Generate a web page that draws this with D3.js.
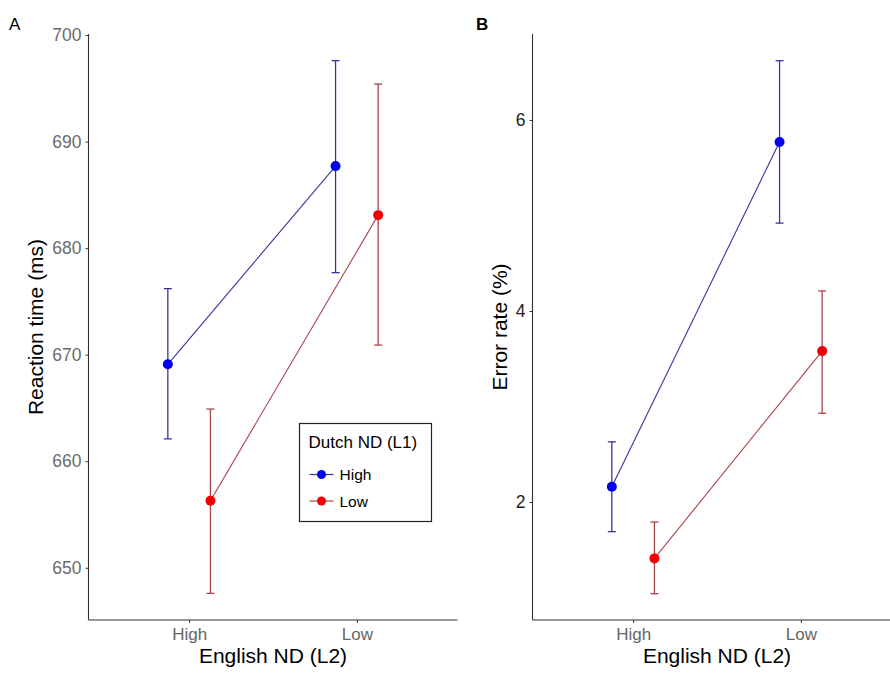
<!DOCTYPE html>
<html>
<head>
<meta charset="utf-8">
<script src="https://cdn.jsdelivr.net/npm/d3@7"></script>
<style>
body { margin: 0; background: #fff; }
text { font-family: "Liberation Sans", Arial, sans-serif; }
</style>
</head>
<body>
<svg id="chart" width="890" height="673"></svg>
<script>
// data
englishLevels = ["High", "Low"];
dutchLevels = ["High", "Low"];
rtMean  = [[669.1, 687.7], [656.3, 683.1]];   // [dutch][english]
rtLower = [[662.1, 677.7], [647.6, 670.9]];
rtUpper = [[676.2, 697.6], [664.9, 695.4]];
errMean  = [[2.16, 5.77], [1.41, 3.58]];
errLower = [[1.69, 4.92], [1.04, 2.93]];
errUpper = [[2.63, 6.62], [1.79, 4.21]];
rtTicks = [650, 660, 670, 680, 690, 700];
errTicks = [2, 4, 6];

pointColours = ["#0000f0", "#f00000"];
lineColours = ["#36369a", "#a8454a"];

svg = d3.select("#chart");
plotTop = 34;
plotBottom = 620;

function buildRows(mean, lower, upper) {
    rows = [];
    for (var g = 0; g < dutchLevels.length; g++) {
        for (var i = 0; i < englishLevels.length; i++) {
            rows.push({group: g, english: englishLevels[i], mean: mean[g][i], lo: lower[g][i], hi: upper[g][i]});
        }
    }
    return rows;
}

function drawPanel(opts) {
    x = d3.scalePoint().domain(englishLevels).range([opts.left, opts.left + 369]).padding(0.6);
    y = d3.scaleLinear().domain(opts.domain).range([plotBottom, plotTop]);
    dodge = x.step() * 0.127;
    rows = buildRows(opts.mean, opts.lower, opts.upper);
    px = (d) => x(d.english) + (d.group == 0 ? -dodge : dodge);

    g = svg.append("g");

    // connecting lines
    for (var k = 0; k < dutchLevels.length; k++) {
        pts = rows.filter((d) => d.group == k);
        g.append("path")
            .attr("d", d3.line().x(px).y((d) => y(d.mean))(pts))
            .attr("fill", "none")
            .attr("stroke", lineColours[k])
            .attr("stroke-width", 1.1);
    }

    // error bars
    bars = g.selectAll(".bar").data(rows).enter().append("g");
    bars.append("line")
        .attr("x1", px).attr("x2", px)
        .attr("y1", (d) => y(d.lo)).attr("y2", (d) => y(d.hi))
        .attr("stroke", (d) => lineColours[d.group])
        .attr("stroke-width", 1.3);
    ["lo", "hi"].forEach((key) => {
        bars.append("line")
            .attr("x1", (d) => px(d) - 4).attr("x2", (d) => px(d) + 4)
            .attr("y1", (d) => y(d[key])).attr("y2", (d) => y(d[key]))
            .attr("stroke", (d) => lineColours[d.group])
            .attr("stroke-width", 1.3);
    });

    // points
    g.selectAll(".pt").data(rows).enter().append("circle")
        .attr("cx", px)
        .attr("cy", (d) => y(d.mean))
        .attr("r", 5)
        .attr("fill", (d) => pointColours[d.group]);

    // axes
    yAxis = g.append("g")
        .attr("transform", "translate(" + opts.left + ",0)")
        .call(d3.axisLeft(y).tickValues(opts.ticks).tickFormat(d3.format("d")).tickSize(3).tickPadding(4));
    yAxis.select(".domain").attr("d", "M0," + plotTop + "V" + plotBottom);
    xAxis = g.append("g")
        .attr("transform", "translate(0," + plotBottom + ")")
        .call(d3.axisBottom(x).tickSize(3).tickPadding(5));
    xAxis.select(".domain").attr("d", "M" + opts.left + ",0H" + (opts.left + 369));
    g.selectAll(".domain").attr("stroke", "#333").attr("stroke-width", 1.1);
    g.selectAll(".tick line").attr("stroke", "#333");
    yAxis.selectAll(".tick text")
        .style("font-size", "17.5px")
        .attr("fill", opts.yTickColour);
    xAxis.selectAll(".tick text")
        .style("font-size", "17px")
        .attr("fill", "#666");

    // titles
    g.append("text")
        .attr("transform", "translate(" + (opts.left - opts.titleGap) + "," + ((plotTop + plotBottom) / 2) + ") rotate(-90)")
        .style("text-anchor", "middle")
        .style("font-size", "21px")
        .text(opts.yTitle);
    g.append("text")
        .attr("x", x("High") + x.step() / 2)
        .attr("y", 663)
        .style("text-anchor", "middle")
        .style("font-size", "21px")
        .text("English ND (L2)");
    g.append("text")
        .attr("x", opts.tagX)
        .attr("y", 30)
        .style("font-size", "17px")
        .style("font-weight", opts.tagWeight)
        .text(opts.tag);
}

drawPanel({left: 88.5, domain: [645.1, 700.1], mean: rtMean, lower: rtLower, upper: rtUpper,
    ticks: rtTicks, yTitle: "Reaction time (ms)", titleGap: 46, tag: "A", tagX: 9, tagWeight: "normal",
    yTickColour: "#6b6b6b"});
drawPanel({left: 532.5, domain: [0.765, 6.90], mean: errMean, lower: errLower, upper: errUpper,
    ticks: errTicks, yTitle: "Error rate (%)", titleGap: 26, tag: "B", tagX: 476, tagWeight: "bold",
    yTickColour: "#222"});

// legend
legend = svg.append("g").attr("transform", "translate(299.5,423.5)");
legend.append("rect")
    .attr("width", 132).attr("height", 98)
    .attr("fill", "#fff").attr("stroke", "#222").attr("stroke-width", 1.2);
legend.append("text")
    .attr("x", 9).attr("y", 24)
    .style("font-size", "17px")
    .text("Dutch ND (L1)");
items = legend.selectAll(".item").data(dutchLevels).enter().append("g")
    .attr("transform", (d, i) => "translate(0," + (51 + i * 26.5) + ")");
items.append("line")
    .attr("x1", 10).attr("x2", 34)
    .attr("stroke", (d, i) => lineColours[i]).attr("stroke-width", 1.2);
items.append("circle")
    .attr("cx", 22).attr("r", 4.5)
    .attr("fill", (d, i) => pointColours[i]);
items.append("text")
    .attr("x", 40).attr("y", 5.5)
    .style("font-size", "15.5px")
    .text((d) => d);
</script>
</body>
</html>
